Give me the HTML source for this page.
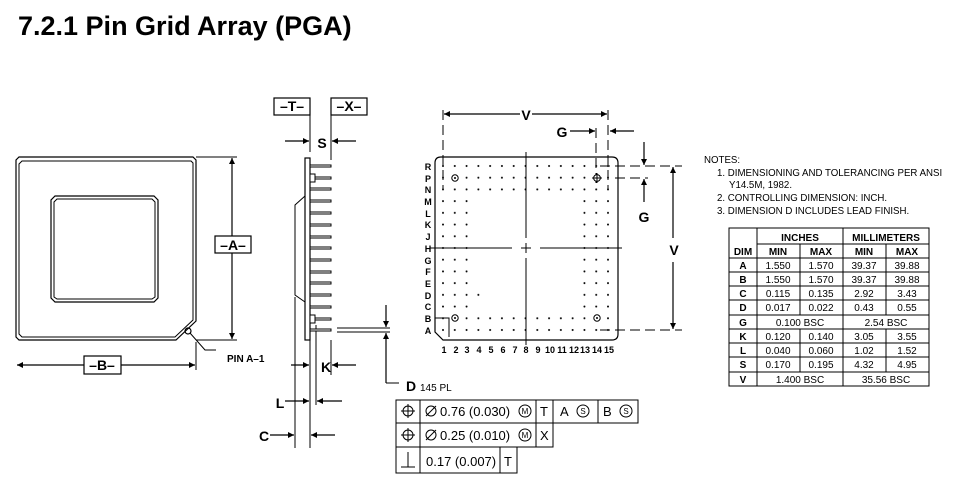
<!DOCTYPE html>
<html><head><style>
html,body{margin:0;padding:0;background:#fff;}
svg{display:block;font-family:"Liberation Sans",Arial,sans-serif;}
</style></head><body>
<svg width="953" height="485" viewBox="0 0 953 485" xmlns="http://www.w3.org/2000/svg">
<defs>
<marker id="ar" viewBox="0 0 10 10" refX="10" refY="5" markerWidth="9" markerHeight="6" orient="auto" markerUnits="userSpaceOnUse"><path d="M0,0L10,5L0,10z" fill="#000"/></marker>
<pattern id="dots" x="437.1" y="160.1" width="11.786" height="11.714" patternUnits="userSpaceOnUse"><circle cx="5.9" cy="5.9" r="1" fill="#000"/></pattern>
</defs>
<text x="18" y="35" font-size="27" font-weight="bold">7.2.1 Pin Grid Array (PGA)</text>

<g fill="none" stroke="#000" stroke-width="1.2">
<path d="M19,157H193L196,160V321L176,340H19L16,337V160Z"/>
<path d="M22,161H191L193,163V320L175,337H22L19,334V164Z" stroke-width="1"/>
<path d="M55,196H154L158,200V298L154,302H55L51,298V200Z"/>
<path d="M57,199H152L155,202V297L152,299H57L54,297V202Z" stroke-width="1"/>
<circle cx="188" cy="331" r="3"/>
<path d="M190,333L205,350H216" stroke-width="1"/>
<path d="M196,157H237M196,340H237" stroke-width="1"/>
<path d="M232,236V158" marker-end="url(#ar)"/><path d="M232,253V339" marker-end="url(#ar)"/>
<rect x="215" y="236" width="36" height="17"/>
<path d="M196,342V370" stroke-width="1"/>
<path d="M84,365H17" marker-end="url(#ar)"/><path d="M121,365H195" marker-end="url(#ar)"/>
<rect x="84" y="356" width="37" height="18"/>

<rect x="274" y="98" width="36" height="17"/><rect x="331" y="98" width="36" height="17"/>
<path d="M310,115V152M331,115V160" stroke-width="1"/>
<path d="M285,141H309" marker-end="url(#ar)"/><path d="M356,141H332" marker-end="url(#ar)"/>
<rect x="305" y="158" width="5" height="182"/>
<path d="M305,196L295,205V295L305,302" stroke-width="1"/>
<path d="M295,297V448M310,340V448M316,325V405M331,340V375" stroke-width="1"/>
<path d="M291,365H309" marker-end="url(#ar)"/><path d="M356,365H332" marker-end="url(#ar)"/>
<path d="M285,401H309" marker-end="url(#ar)"/><path d="M342,401H317" marker-end="url(#ar)"/>
<path d="M270,435H294" marker-end="url(#ar)"/><path d="M335,435H311" marker-end="url(#ar)"/>
<path d="M337,328H390M337,332H390" stroke-width="1"/>
<path d="M386,305V327" marker-end="url(#ar)"/><path d="M386,383V333" marker-end="url(#ar)"/>
<path d="M386,383H399" stroke-width="1"/>
</g>
<g fill="#fff" stroke="#000" stroke-width="1">
<rect x="310" y="165" width="21" height="2"/><rect x="310" y="177" width="21" height="2"/>
<rect x="310" y="188" width="21" height="2"/><rect x="310" y="200" width="21" height="2"/>
<rect x="310" y="212" width="21" height="2"/><rect x="310" y="224" width="21" height="2"/>
<rect x="310" y="236" width="21" height="2"/><rect x="310" y="247" width="21" height="2"/>
<rect x="310" y="259" width="21" height="2"/><rect x="310" y="271" width="21" height="2"/>
<rect x="310" y="282" width="21" height="2"/><rect x="310" y="294" width="21" height="2"/>
<rect x="310" y="306" width="21" height="2"/><rect x="310" y="318" width="21" height="2"/>
<rect x="310" y="329" width="21" height="2"/>
<rect x="310" y="174" width="5" height="8"/><rect x="310" y="315" width="5" height="8"/>
</g>

<g fill="none" stroke="#000" stroke-width="1.2">
<path d="M441,157H612Q618,157 618,163V334Q618,340 612,340H443L435,332V163Q435,157 441,157Z"/>
<path d="M435,318H449V337" stroke-width="1"/>
<path d="M430,248H512M540,248H622M526,152V238M526,258V345M521,248H531M526,243V253" stroke-width="1"/>
<path d="M443,110V190M608,110V190M596,128V185" stroke-width="1" stroke-dasharray="10,5"/>
<path d="M520,114H444" marker-end="url(#ar)"/><path d="M532,114H607" marker-end="url(#ar)"/>
<path d="M570,131H595" marker-end="url(#ar)"/><path d="M634,131H610" marker-end="url(#ar)"/>
<path d="M600,166H682M615,178H648M600,330H682" stroke-width="1" stroke-dasharray="10,5"/>
<path d="M673,238V167" marker-end="url(#ar)"/><path d="M673,262V329" marker-end="url(#ar)"/>
<path d="M644,142V165" marker-end="url(#ar)"/><path d="M644,202V179" marker-end="url(#ar)"/>
</g>
<rect x="437.1" y="160.1" width="176.8" height="35.1" fill="url(#dots)"/>
<rect x="437.1" y="312.4" width="176.8" height="23.5" fill="url(#dots)"/>
<rect x="437.1" y="195.2" width="35.4" height="117.2" fill="url(#dots)"/>
<rect x="578.6" y="195.2" width="35.4" height="117.2" fill="url(#dots)"/>
<rect x="472.5" y="289" width="11.8" height="11.7" fill="url(#dots)"/>
<g fill="#fff" stroke="#000" stroke-width="1">
<circle cx="455" cy="178" r="3.2"/><circle cx="455" cy="318" r="3.2"/><circle cx="597" cy="318" r="3.2"/><circle cx="597" cy="178" r="3.4"/>
</g>
<circle cx="455" cy="178" r="1" fill="#000"/><circle cx="455" cy="318" r="1" fill="#000"/><circle cx="597" cy="318" r="1" fill="#000"/>
<path d="M592,178H602M597,173V183" stroke="#000" stroke-width="1"/>
<g font-size="9" font-weight="bold" text-anchor="middle">
<text x="428" y="170">R</text><text x="428" y="182">P</text><text x="428" y="193">N</text><text x="428" y="205">M</text><text x="428" y="217">L</text><text x="428" y="228">K</text><text x="428" y="240">J</text><text x="428" y="252">H</text><text x="428" y="264">G</text><text x="428" y="275">F</text><text x="428" y="287">E</text><text x="428" y="299">D</text><text x="428" y="310">C</text><text x="428" y="322">B</text><text x="428" y="334">A</text>
<text x="444" y="353">1</text><text x="456" y="353">2</text><text x="467" y="353">3</text><text x="479" y="353">4</text><text x="491" y="353">5</text><text x="503" y="353">6</text><text x="515" y="353">7</text><text x="526" y="353">8</text><text x="538" y="353">9</text><text x="550" y="353">10</text><text x="562" y="353">11</text><text x="574" y="353">12</text><text x="585" y="353">13</text><text x="597" y="353">14</text><text x="609" y="353">15</text>
</g>

<g font-size="14" font-weight="bold" text-anchor="middle">
<text x="233" y="250">–A–</text><text x="102" y="370">–B–</text>
<text x="292" y="111">–T–</text><text x="349" y="111">–X–</text>
<text x="322" y="148">S</text><text x="326" y="372">K</text><text x="280" y="408">L</text><text x="264" y="441">C</text>
<text x="526" y="120">V</text><text x="562" y="137">G</text><text x="674" y="255">V</text><text x="644" y="222">G</text>
<text x="411" y="391">D</text>
</g>
<text x="227" y="362" font-size="10" font-weight="bold">PIN A–1</text>
<text x="420" y="391" font-size="10">145 PL</text>

<g fill="none" stroke="#000" stroke-width="1">
<path d="M396,400H638V423H396ZM396,423H553V447H396ZM396,447H517V473H396Z"/>
<path d="M420,400V473M536,400V447M553,400V423M598,400V423M500,447V473"/>
<circle cx="408" cy="411" r="5"/><path d="M401,411H415M408,404V418"/>
<circle cx="408" cy="435" r="5"/><path d="M401,435H415M408,428V442"/>
<path d="M408,452V467M401,467H415"/>
<circle cx="431" cy="411" r="5"/><path d="M426,416L436,406"/>
<circle cx="431" cy="435" r="5"/><path d="M426,440L436,430"/>
<circle cx="525" cy="411" r="6"/><circle cx="525" cy="435" r="6"/>
<circle cx="583" cy="411" r="6"/><circle cx="626" cy="411" r="6"/>
</g>
<g font-size="13">
<text x="440" y="416">0.76 (0.030)</text><text x="440" y="440">0.25 (0.010)</text><text x="426" y="466">0.17 (0.007)</text>
<text x="540" y="416">T</text><text x="540" y="440">X</text><text x="504" y="466">T</text>
<text x="560" y="416">A</text><text x="603" y="416">B</text>
</g>
<g font-size="8" text-anchor="middle"><text x="525" y="414">M</text><text x="525" y="438">M</text><text x="583" y="414">S</text><text x="626" y="414">S</text></g>

<g font-size="9.7">
<text x="704" y="163">NOTES:</text>
<text x="717" y="176">1. DIMENSIONING AND TOLERANCING PER ANSI</text>
<text x="729" y="188">Y14.5M, 1982.</text>
<text x="717" y="201">2. CONTROLLING DIMENSION: INCH.</text>
<text x="717" y="214">3. DIMENSION D INCLUDES LEAD FINISH.</text>
</g>
<g fill="none" stroke="#000" stroke-width="1">
<rect x="729" y="228" width="200" height="158"/>
<path d="M757,228V386M843,228V386M757,244H929M729,258H929"/>
<path d="M800,244V315M800,329V372M886,244V315M886,329V372"/>
<path d="M729,272H929M729,286H929M729,300H929M729,315H929M729,329H929M729,343H929M729,357H929M729,372H929"/>
</g>
<g font-size="10" text-anchor="middle">
<g font-weight="bold"><text x="800" y="241">INCHES</text><text x="886" y="241">MILLIMETERS</text>
<text x="743" y="255">DIM</text><text x="778" y="255">MIN</text><text x="821" y="255">MAX</text><text x="864" y="255">MIN</text><text x="907" y="255">MAX</text>
<text x="743" y="269">A</text><text x="743" y="283">B</text><text x="743" y="297">C</text><text x="743" y="311">D</text><text x="743" y="326">G</text><text x="743" y="340">K</text><text x="743" y="354">L</text><text x="743" y="368">S</text><text x="743" y="383">V</text></g>
<text x="778" y="269">1.550</text><text x="821" y="269">1.570</text><text x="864" y="269">39.37</text><text x="907" y="269">39.88</text>
<text x="778" y="283">1.550</text><text x="821" y="283">1.570</text><text x="864" y="283">39.37</text><text x="907" y="283">39.88</text>
<text x="778" y="297">0.115</text><text x="821" y="297">0.135</text><text x="864" y="297">2.92</text><text x="907" y="297">3.43</text>
<text x="778" y="311">0.017</text><text x="821" y="311">0.022</text><text x="864" y="311">0.43</text><text x="907" y="311">0.55</text>
<text x="800" y="326">0.100 BSC</text><text x="886" y="326">2.54 BSC</text>
<text x="778" y="340">0.120</text><text x="821" y="340">0.140</text><text x="864" y="340">3.05</text><text x="907" y="340">3.55</text>
<text x="778" y="354">0.040</text><text x="821" y="354">0.060</text><text x="864" y="354">1.02</text><text x="907" y="354">1.52</text>
<text x="778" y="368">0.170</text><text x="821" y="368">0.195</text><text x="864" y="368">4.32</text><text x="907" y="368">4.95</text>
<text x="800" y="383">1.400 BSC</text><text x="886" y="383">35.56 BSC</text>
</g>
</svg>
</body></html>
